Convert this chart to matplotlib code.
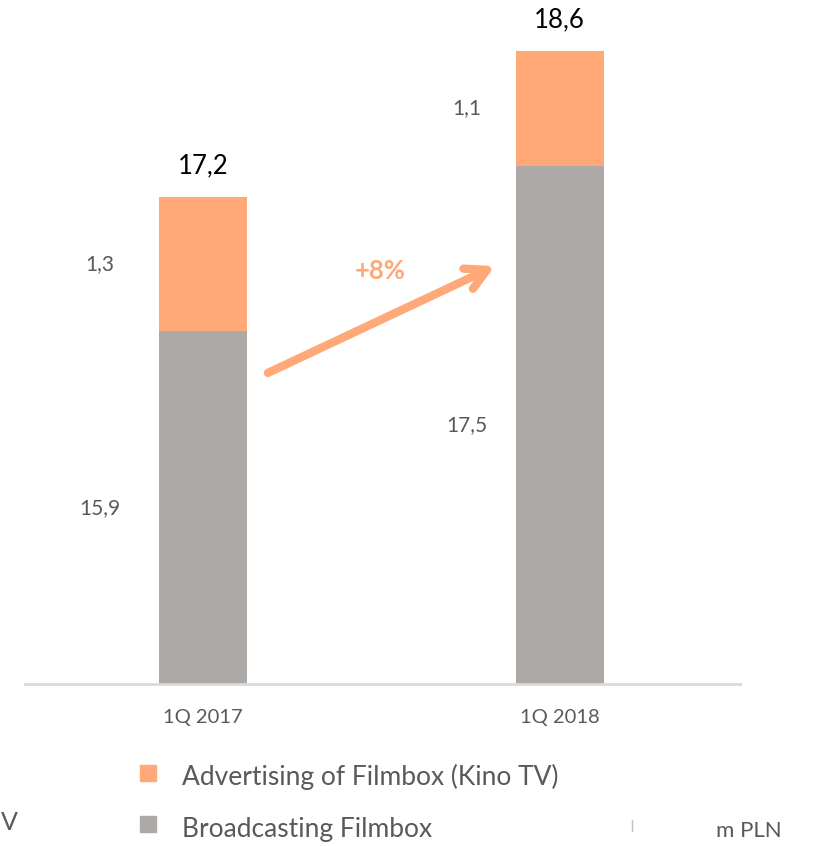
import matplotlib
matplotlib.use("Agg")
import matplotlib.pyplot as plt
from matplotlib.patches import Rectangle

plt.rcParams['font.family'] = ['Lato', 'DejaVu Sans']

categories = ["1Q 2017", "1Q 2018"]
broadcasting = [15.9, 17.5]
advertising = [1.3, 1.1]
totals = [17.2, 18.6]
broadcasting_labels = ["15,9", "17,5"]
advertising_labels = ["1,3", "1,1"]
total_labels = ["17,2", "18,6"]
growth_label = "+8%"
legend_labels = ["Advertising of Filmbox (Kino TV)", "Broadcasting Filmbox"]

ORANGE = "#FFA878"
GRAY = "#ADA9A7"
TXT = "#595959"

W, H = 818, 846
fig = plt.figure(figsize=(W / 100, H / 100), dpi=100)
ax = fig.add_axes([25 / W, (H - 684) / H, (740 - 25) / W, (684 - 10) / H])

x = [0, 1]
width = 0.247
ax.bar(x, broadcasting, width=width, color=GRAY, zorder=2)
ax.bar(x, advertising, width=width, bottom=broadcasting, color=ORANGE, zorder=2)

ax.set_xlim(-0.499, 1.506)
ax.set_ylim(12.5, 19.0)
for s in ax.spines.values():
    s.set_visible(False)
ax.set_xticks([])
ax.set_yticks([])
ax.axhline(12.5, color="#D9D9D9", lw=2, zorder=3, clip_on=False)

# segment labels
seg_offsets = [-0.29, -0.26]
vis_bottom = 12.5
for i in range(2):
    gmid = (vis_bottom + broadcasting[i]) / 2
    omid = broadcasting[i] + advertising[i] / 2
    ax.text(x[i] + seg_offsets[i], gmid, broadcasting_labels[i], ha="center", va="center",
            fontsize=15, color=TXT)
    ax.text(x[i] + seg_offsets[i], omid, advertising_labels[i], ha="center", va="center",
            fontsize=15, color=TXT)
    ax.text(x[i], totals[i] + 0.18, total_labels[i], ha="center", va="bottom",
            fontsize=18.5, color="black")
    ax.text(x[i], 12.5 - 0.32, categories[i], ha="center", va="center",
            fontsize=14.5, color=TXT)

# growth arrow
ax.annotate("", xy=(0.819, 16.53), xytext=(0.182, 15.5),
            arrowprops=dict(arrowstyle="->,head_length=1.5,head_width=0.8",
                            color=ORANGE, lw=6, capstyle="round", joinstyle="round",
                            shrinkA=0, shrinkB=0), zorder=4)
ax.text(0.497, 16.48, growth_label, ha="center", va="center", fontsize=18.5,
        fontweight="bold", color=ORANGE)

# legend
fig.patches.append(Rectangle((140 / W, 1 - 781 / H), 16 / W, 16 / H,
                             transform=fig.transFigure, color=ORANGE))
fig.patches.append(Rectangle((140 / W, 1 - 832 / H), 16 / W, 16 / H,
                             transform=fig.transFigure, color=GRAY))
fig.text(182 / W, 1 - 777 / H, legend_labels[0], ha="left", va="center",
         fontsize=19, color=TXT)
fig.text(182 / W, 1 - 829 / H, legend_labels[1], ha="left", va="center",
         fontsize=19, color=TXT)

# texts at the edges
fig.text(1 / W, 1 - 822 / H, "V", ha="left", va="center", fontsize=18, color=TXT)
fig.text(716 / W, 1 - 831 / H, "m PLN", ha="left", va="center", fontsize=16, color=TXT)
fig.lines.append(plt.Line2D([632 / W, 632 / W], [1 - 820 / H, 1 - 831 / H],
                            transform=fig.transFigure, color="#BFBFBF", lw=1))

fig.savefig("out.png", dpi=100)
